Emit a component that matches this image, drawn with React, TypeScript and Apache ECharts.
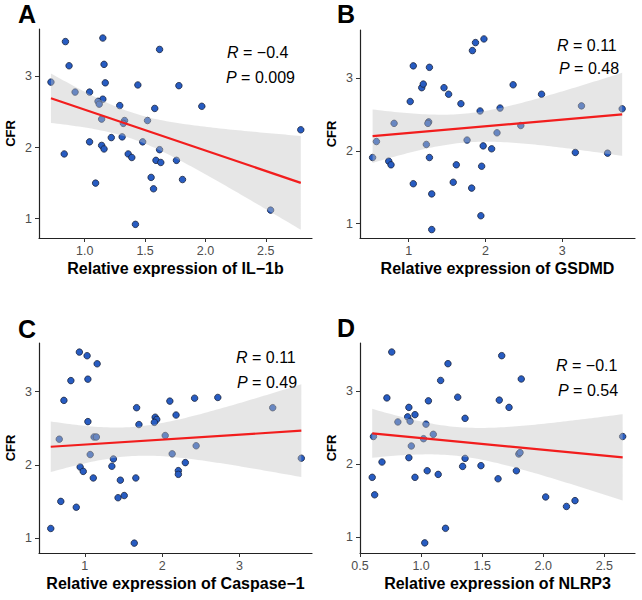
import React, { useEffect, useRef } from "react";
import * as echarts from "echarts";

// CFR against relative expression of four inflammasome markers
const il1bExpr = [0.72, 0.84, 0.87, 0.92, 0.83, 1.15, 1.16, 1.17, 1.04, 1.15, 1.11, 1.12, 1.14, 1.04, 1.14, 1.16, 1.09, 1.29, 1.22, 1.31, 1.33, 1.32, 1.36, 1.39, 1.44, 1.42, 1.62, 1.52, 1.48, 1.58, 1.62, 1.59, 1.63, 1.55, 1.57, 1.78, 1.76, 1.81, 1.97, 2.54, 2.79];
const il1bCfr = [2.92, 3.49, 3.15, 2.78, 1.91, 3.54, 3.17, 2.91, 2.78, 2.68, 2.65, 2.61, 2.40, 2.08, 2.03, 1.98, 1.50, 2.59, 2.14, 2.15, 2.38, 2.34, 1.91, 1.86, 2.88, 0.92, 3.38, 2.38, 2.08, 2.55, 1.97, 1.82, 1.79, 1.58, 1.42, 2.87, 1.82, 1.55, 2.58, 1.12, 2.25];

const gsdmdExpr = [0.53, 0.58, 0.74, 0.77, 0.81, 1.02, 1.06, 1.06, 1.17, 1.19, 1.27, 1.26, 1.25, 1.23, 1.27, 1.30, 1.30, 1.46, 1.52, 1.68, 1.62, 1.58, 1.76, 1.83, 1.87, 1.98, 1.93, 1.82, 1.95, 1.97, 1.94, 2.08, 2.15, 2.19, 2.36, 2.46, 2.73, 3.17, 3.25, 3.59, 3.78];
const gsdmdCfr = [1.91, 2.13, 1.86, 1.81, 2.38, 2.68, 3.17, 1.55, 2.87, 2.92, 3.15, 2.40, 2.38, 2.09, 1.91, 1.41, 0.92, 2.87, 2.78, 2.65, 1.81, 1.57, 2.15, 3.38, 3.49, 3.54, 2.55, 1.49, 1.79, 2.07, 1.11, 2.03, 2.25, 2.59, 2.91, 2.35, 2.78, 1.98, 2.62, 1.97, 2.58];

const casp1Expr = [0.56, 0.67, 0.69, 0.73, 0.82, 0.93, 0.89, 0.94, 0.98, 1.03, 1.04, 1.04, 1.16, 1.12, 1.15, 1.07, 1.11, 1.35, 1.37, 1.46, 1.43, 1.51, 1.64, 1.66, 1.67, 1.70, 1.91, 1.93, 1.90, 2.04, 2.10, 2.13, 2.18, 2.21, 2.21, 2.30, 2.44, 2.42, 2.72, 3.43, 3.80];
const casp1Cfr = [1.13, 2.35, 1.50, 2.88, 3.15, 3.54, 1.42, 1.97, 1.91, 3.49, 3.17, 2.59, 3.38, 2.38, 2.38, 2.14, 1.82, 1.98, 2.08, 1.79, 1.55, 1.58, 0.93, 1.82, 2.78, 2.55, 2.65, 2.62, 2.58, 2.40, 2.87, 2.15, 2.68, 1.92, 1.87, 2.03, 2.26, 2.91, 2.92, 2.78, 2.09];

const nlrp3Expr = [0.60, 0.61, 0.62, 0.68, 0.72, 0.76, 0.81, 0.89, 0.90, 0.91, 0.95, 0.90, 0.92, 0.95, 1.04, 1.02, 1.06, 1.10, 1.05, 1.03, 1.14, 1.16, 1.22, 1.20, 1.30, 1.36, 1.36, 1.34, 1.49, 1.66, 1.64, 1.63, 1.72, 1.82, 1.78, 1.80, 1.81, 2.02, 2.19, 2.26, 2.65];
const nlrp3Cfr = [1.82, 2.38, 1.58, 2.03, 2.91, 3.54, 2.58, 2.65, 2.78, 2.59, 2.68, 2.09, 2.25, 1.82, 2.55, 2.35, 2.87, 2.41, 1.91, 0.92, 1.86, 3.15, 3.38, 1.12, 2.92, 2.63, 2.08, 1.97, 1.98, 3.49, 2.88, 1.80, 2.78, 3.17, 1.91, 2.14, 2.16, 1.55, 1.42, 1.50, 2.38];

// Tick labels
const cfrTicks = [1, 2, 3];
const il1bTicks = [1.0, 1.5, 2.0, 2.5];
const gsdmdTicks = [1, 2, 3];
const casp1Ticks = [1, 2, 3];
const nlrp3Ticks = [0.5, 1.0, 1.5, 2.0, 2.5];

// Panel annotations
const panelLetters = ["A", "B", "C", "D"];
const xTitles = [
  "Relative expression of IL\u22121b",
  "Relative expression of GSDMD",
  "Relative expression of Caspase\u22121",
  "Relative expression of NLRP3",
];
const statR = ["\u22120.4", "0.11", "0.11", "\u22120.1"];
const statP = ["0.009", "0.48", "0.49", "0.54"];

const FONT = "'Liberation Sans', Arial, Helvetica, sans-serif";

// two-sided 95% t quantile (Cornish-Fisher expansion)
function tQuantile975(df: number): number {
  const z = 1.959964;
  const g1 = (z ** 3 + z) / 4;
  const g2 = (5 * z ** 5 + 16 * z ** 3 + 3 * z) / 96;
  const g3 = (3 * z ** 7 + 19 * z ** 5 + 17 * z ** 3 - 15 * z) / 384;
  return z + g1 / df + g2 / df ** 2 + g3 / df ** 3;
}

// Ordinary least squares fit with 95% confidence band for the mean
function linearFit(xs: number[], ys: number[]) {
  const n = xs.length;
  const mx = xs.reduce((s, v) => s + v, 0) / n;
  const my = ys.reduce((s, v) => s + v, 0) / n;
  let sxx = 0;
  let sxy = 0;
  for (let i = 0; i < n; i++) {
    sxx += (xs[i] - mx) ** 2;
    sxy += (xs[i] - mx) * (ys[i] - my);
  }
  const b = sxy / sxx;
  const a = my - b * mx;
  let rss = 0;
  for (let i = 0; i < n; i++) rss += (ys[i] - a - b * xs[i]) ** 2;
  const s = Math.sqrt(rss / (n - 2));
  const t = tQuantile975(n - 2);
  const lo = Math.min(...xs);
  const hi = Math.max(...xs);
  const steps = 80;
  const upper: number[][] = [];
  const lower: number[][] = [];
  for (let k = 0; k <= steps; k++) {
    const x = lo + ((hi - lo) * k) / steps;
    const yh = a + b * x;
    const se = s * Math.sqrt(1 / n + (x - mx) ** 2 / sxx);
    upper.push([x, yh + t * se]);
    lower.push([x, yh - t * se]);
  }
  return {
    line: [
      [lo, a + b * lo],
      [hi, a + b * hi],
    ],
    band: upper.concat(lower.reverse()),
  };
}

const panels = [
  { xs: il1bExpr, ys: il1bCfr, xTicks: il1bTicks, xDec: 1, xRange: [0.621, 2.883], yRange: [0.728, 3.667], grid: { left: 39, top: 29, width: 273, height: 209 } },
  { xs: gsdmdExpr, ys: gsdmdCfr, xTicks: gsdmdTicks, xDec: 0, xRange: [0.366, 3.947], yRange: [0.804, 3.663], grid: { left: 360, top: 30, width: 275, height: 208 } },
  { xs: casp1Expr, ys: casp1Cfr, xTicks: casp1Ticks, xDec: 0, xRange: [0.408, 3.938], yRange: [0.795, 3.664], grid: { left: 39, top: 343, width: 273, height: 210 } },
  { xs: nlrp3Expr, ys: nlrp3Cfr, xTicks: nlrp3Ticks, xDec: 1, xRange: [0.5, 2.751], yRange: [0.781, 3.664], grid: { left: 360, top: 343, width: 275, height: 210 } },
];

// letter and statistics placement per panel
const letterPos = [
  [18, 14],
  [337, 14],
  [18, 329],
  [337, 328],
];
const statPos = [
  [227, 52, 226, 77],
  [557, 45, 559, 68],
  [236, 357, 237, 382],
  [556, 365, 558, 390],
];

function buildOption() {
  const axisLine = { show: true, onZero: false, lineStyle: { color: "#222", width: 1.2 } };
  const axisTickBase = { show: true, inside: false, length: 4, lineStyle: { color: "#333", width: 1 } };
  const tickLabel = { color: "#4d4d4d", fontSize: 12.5, fontFamily: FONT };

  const grid = panels.map((p) => ({ ...p.grid, containLabel: false }));

  const xAxis = panels.map((p, i) => ({
    type: "value",
    gridIndex: i,
    min: p.xRange[0],
    max: p.xRange[1],
    axisLine,
    axisTick: { ...axisTickBase, customValues: p.xTicks },
    axisLabel: {
      ...tickLabel,
      margin: 6,
      customValues: p.xTicks,
      formatter: (v: number) => v.toFixed(p.xDec),
    },
    splitLine: { show: false },
    name: xTitles[i],
    nameLocation: "middle",
    nameGap: 22,
    nameTextStyle: { fontSize: 16, fontWeight: "bold", color: "#000", fontFamily: FONT },
  }));

  const yAxis = panels.map((p, i) => ({
    type: "value",
    gridIndex: i,
    min: p.yRange[0],
    max: p.yRange[1],
    axisLine,
    axisTick: { ...axisTickBase, customValues: cfrTicks },
    axisLabel: {
      ...tickLabel,
      margin: 7,
      customValues: cfrTicks,
      formatter: (v: number) => v.toFixed(0),
    },
    splitLine: { show: false },
    name: "CFR",
    nameLocation: "middle",
    nameGap: 22,
    nameTextStyle: { fontSize: 13, fontWeight: "bold", color: "#000", fontFamily: FONT },
  }));

  const series: any[] = [];
  panels.forEach((p, i) => {
    const fit = linearFit(p.xs, p.ys);
    series.push({
      type: "scatter",
      xAxisIndex: i,
      yAxisIndex: i,
      data: p.xs.map((x, k) => [x, p.ys[k]]),
      symbolSize: 6.5,
      itemStyle: { color: "#275cc2", borderColor: "#141c33", borderWidth: 0.75, opacity: 1 },
      z: 2,
      silent: true,
    });
    series.push({
      type: "custom",
      xAxisIndex: i,
      yAxisIndex: i,
      data: [fit.line[0]],
      renderItem: (_params: any, api: any) => ({
        type: "polygon",
        shape: { points: fit.band.map((pt) => api.coord(pt)) },
        style: { fill: "rgba(196,196,196,0.42)" },
      }),
      z: 3,
      silent: true,
    });
    series.push({
      type: "line",
      xAxisIndex: i,
      yAxisIndex: i,
      data: fit.line,
      showSymbol: false,
      lineStyle: { color: "#f21d1d", width: 2.2 },
      z: 4,
      silent: true,
    });
  });

  const graphic: any[] = [];
  panels.forEach((_p, i) => {
    graphic.push({
      type: "text",
      x: letterPos[i][0],
      y: letterPos[i][1],
      style: {
        text: panelLetters[i],
        fill: "#000",
        font: `bold 25px ${FONT}`,
        textAlign: "left",
        textVerticalAlign: "middle",
      },
    });
    const rich = {
      i: { fontStyle: "italic", fontSize: 16, fontFamily: FONT, fill: "#000" },
      n: { fontSize: 16, fontFamily: FONT, fill: "#000" },
    };
    graphic.push({
      type: "text",
      x: statPos[i][0],
      y: statPos[i][1],
      style: {
        text: `{i|R}{n| = ${statR[i]}}`,
        rich,
        font: `16px ${FONT}`,
        fill: "#000",
        textAlign: "left",
        textVerticalAlign: "middle",
      },
    });
    graphic.push({
      type: "text",
      x: statPos[i][2],
      y: statPos[i][3],
      style: {
        text: `{i|P}{n| = ${statP[i]}}`,
        rich,
        font: `16px ${FONT}`,
        fill: "#000",
        textAlign: "left",
        textVerticalAlign: "middle",
      },
    });
  });

  return {
    animation: false,
    backgroundColor: "#ffffff",
    grid,
    xAxis,
    yAxis,
    series,
    graphic,
  };
}

export default function App() {
  const ref = useRef<HTMLDivElement>(null);
  useEffect(() => {
    if (!ref.current) return;
    const chart = echarts.init(ref.current, undefined, { renderer: "svg" });
    chart.setOption(buildOption() as any);
    return () => chart.dispose();
  }, []);
  return (
    <div
      ref={ref}
      style={{ position: "absolute", left: 0, top: 0, width: 642, height: 600, background: "#fff" }}
    />
  );
}
